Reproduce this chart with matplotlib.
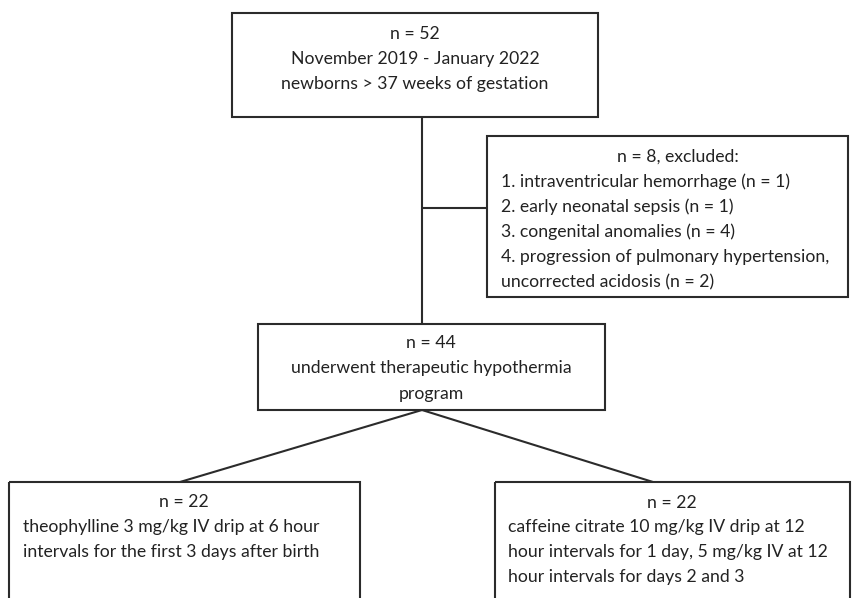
import matplotlib
matplotlib.use('Agg')
import matplotlib.pyplot as plt
from matplotlib.patches import Rectangle

plt.rcParams['font.family'] = ['Lato', 'DejaVu Sans']

# flowchart content
top_lines = ['n = 52', 'November 2019 - January 2022', 'newborns > 37 weeks of gestation']
excl_title = 'n = 8, excluded:'
excl_lines = ['1. intraventricular hemorrhage (n = 1)',
              '2. early neonatal sepsis (n = 1)',
              '3. congenital anomalies (n = 4)',
              '4. progression of pulmonary hypertension,',
              'uncorrected acidosis (n = 2)']
mid_lines = ['n = 44', 'underwent therapeutic hypothermia', 'program']
left_title = 'n = 22'
left_lines = ['theophylline 3 mg/kg IV drip at 6 hour',
              'intervals for the first 3 days after birth']
right_title = 'n = 22'
right_lines = ['caffeine citrate 10 mg/kg IV drip at 12',
               'hour intervals for 1 day, 5 mg/kg IV at 12',
               'hour intervals for days 2 and 3']

W, H = 858, 598
fig = plt.figure(figsize=(W / 100, H / 100), dpi=100)
ax = fig.add_axes([0, 0, 1, 1])
ax.set_xlim(0, W)
ax.set_ylim(H, 0)
ax.axis('off')

lc = '#2b2b2b'
lw = 1.5
fs = 12.7
tc = '#222222'

def box(x0, y0, x1, y1):
    ax.add_patch(Rectangle((x0, y0), x1 - x0, y1 - y0, fill=False, edgecolor=lc, lw=lw))

def line(xs, ys):
    ax.plot(xs, ys, color=lc, lw=lw, solid_capstyle='butt')

# boxes
box(232, 13, 598, 117)
box(487, 136, 848, 297)
box(258, 324, 605, 410)
box(9, 482, 360, 620)
box(495, 482, 850, 620)

# connectors
line([422, 422], [117, 324])
line([422, 487], [208, 208])
line([422, 180], [410, 482])
line([422, 653], [410, 482])

# top box text
for i, t in enumerate(top_lines):
    ax.text(415, 34 + i * 25, t, ha='center', va='center', fontsize=fs, color=tc)

# excluded box
ax.text(678, 157, excl_title, ha='center', va='center', fontsize=fs, color=tc)
for i, t in enumerate(excl_lines):
    ax.text(501, 182 + i * 25, t, ha='left', va='center', fontsize=fs, color=tc)

# middle box
for i, t in enumerate(mid_lines):
    ax.text(431, 343 + i * 25.5, t, ha='center', va='center', fontsize=fs, color=tc)

# bottom left
ax.text(184, 502, left_title, ha='center', va='center', fontsize=fs, color=tc)
for i, t in enumerate(left_lines):
    ax.text(23, 527 + i * 25, t, ha='left', va='center', fontsize=fs, color=tc)

# bottom right
ax.text(672, 503, right_title, ha='center', va='center', fontsize=fs, color=tc)
for i, t in enumerate(right_lines):
    ax.text(508, 527 + i * 25, t, ha='left', va='center', fontsize=fs, color=tc)

fig.savefig('out.png', dpi=100)
